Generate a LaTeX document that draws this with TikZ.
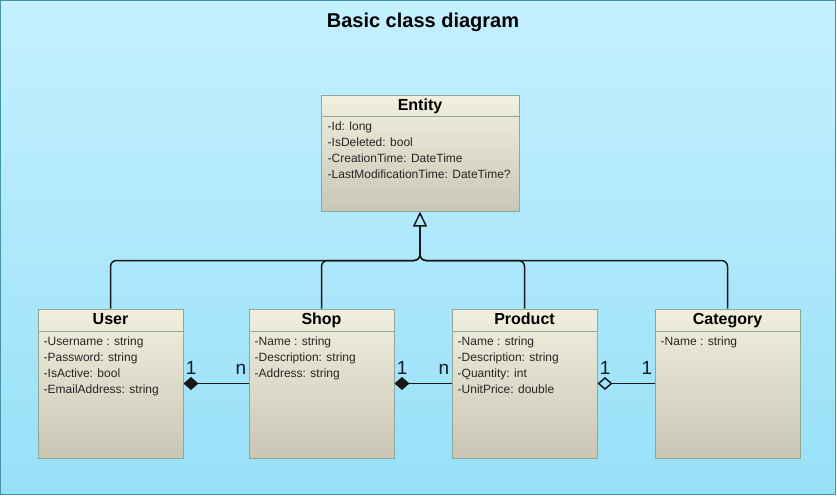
\documentclass[tikz,border=0pt]{standalone}
\usepackage{fontspec}
\setmainfont{Liberation Sans}
\usetikzlibrary{positioning,arrows.meta}
\definecolor{bgtop}{RGB}{196,240,255}
\definecolor{bgbot}{RGB}{152,224,248}
\definecolor{framecol}{RGB}{70,146,168}
\definecolor{boxtop}{RGB}{241,239,221}
\definecolor{boxbot}{RGB}{200,199,181}
\definecolor{boxline}{RGB}{143,168,150}
\definecolor{ink}{RGB}{25,25,25}
\definecolor{multink}{RGB}{15,28,40}
\begin{document}
\begin{tikzpicture}[x=1pt,y=-1pt,
  classbox/.style={draw=boxline,line width=1pt,top color=boxtop,bottom color=boxbot,minimum width=145pt,minimum height=149pt,inner sep=0pt},
  headbox/.style={draw=boxline,line width=1pt,minimum width=145pt,minimum height=22pt,inner sep=0pt,text height=11.5pt,text depth=2.5pt,font=\fontsize{16}{16}\selectfont\bfseries},
  attrs/.style={align=left,inner sep=0pt,text=black!85,font=\fontsize{12}{16}\selectfont},
  link/.style={draw=ink,line width=1.5pt},
  mult/.style={inner sep=1.5pt,yshift=7pt,text=multink,font=\fontsize{19}{19}\selectfont}]
\useasboundingbox (0,0) rectangle (837,497);
% Background
\draw[framecol,line width=1pt,top color=bgtop,bottom color=bgbot] (0.5,0.5) rectangle (835.5,494.5);
\node[font=\fontsize{20}{20}\selectfont\bfseries,anchor=base] (title) at (423,27.5) {Basic class diagram};
% Entity
\node[classbox,minimum width=198pt,minimum height=115pt] (entity) at (420,153.5) {};
\node[headbox,minimum width=198pt,minimum height=21pt,anchor=north] (entityhead) at (entity.north) {Entity};
\node[attrs,below right=4pt and 7pt of entityhead.south west] (entityattrs) {-Id: long\\-IsDeleted: bool\\-CreationTime: DateTime\\-LastModificationTime: DateTime?};
% Classes
\node[classbox] (user) at (110.5,383.5) {};
\node[headbox,anchor=north] (userhead) at (user.north) {User};
\node[attrs,below right=5pt and 6pt of userhead.south west] (userattrs) {-Username : string\\-Password: string\\-IsActive: bool\\-EmailAddress: string};
\node[classbox] (shop) at (321.5,383.5) {};
\node[headbox,anchor=north] (shophead) at (shop.north) {Shop};
\node[attrs,below right=5pt and 6pt of shophead.south west] (shopattrs) {-Name : string\\-Description: string\\-Address: string};
\node[classbox] (product) at (524.5,383.5) {};
\node[headbox,anchor=north] (producthead) at (product.north) {Product};
\node[attrs,below right=5pt and 6pt of producthead.south west] (productattrs) {-Name : string\\-Description: string\\-Quantity: int\\-UnitPrice: double};
\node[classbox] (category) at (727.5,383.5) {};
\node[headbox,anchor=north] (categoryhead) at (category.north) {Category};
\node[attrs,below right=5pt and 6pt of categoryhead.south west] (categoryattrs) {-Name : string};
% Generalisation
\coordinate[below=49pt of entity.south] (join);
\coordinate[below=20pt of entity.south] (bus);
\draw[link,rounded corners=6pt] (user.north) |- (join) -- (bus);
\draw[link,rounded corners=6pt] (shop.north) |- (join) -- (bus);
\draw[link,rounded corners=6pt] (product.north) |- (join) -- (bus);
\draw[link,rounded corners=6pt] (category.north) |- (join) -- (bus);
\draw[link,-{Triangle[open,width=14pt,length=15pt]}] (bus) -- (entity.south);
% Associations
\draw[link,-{Diamond[width=13pt,length=15pt]}] (shop.west) node[mult,above left] {n} -- (user.east) node[mult,above right] {1};
\draw[link,-{Diamond[width=13pt,length=15pt]}] (product.west) node[mult,above left] {n} -- (shop.east) node[mult,above right] {1};
\draw[link,-{Diamond[open,width=13pt,length=15pt]}] (category.west) node[mult,above left] {1} -- (product.east) node[mult,above right] {1};
\end{tikzpicture}
\end{document}
